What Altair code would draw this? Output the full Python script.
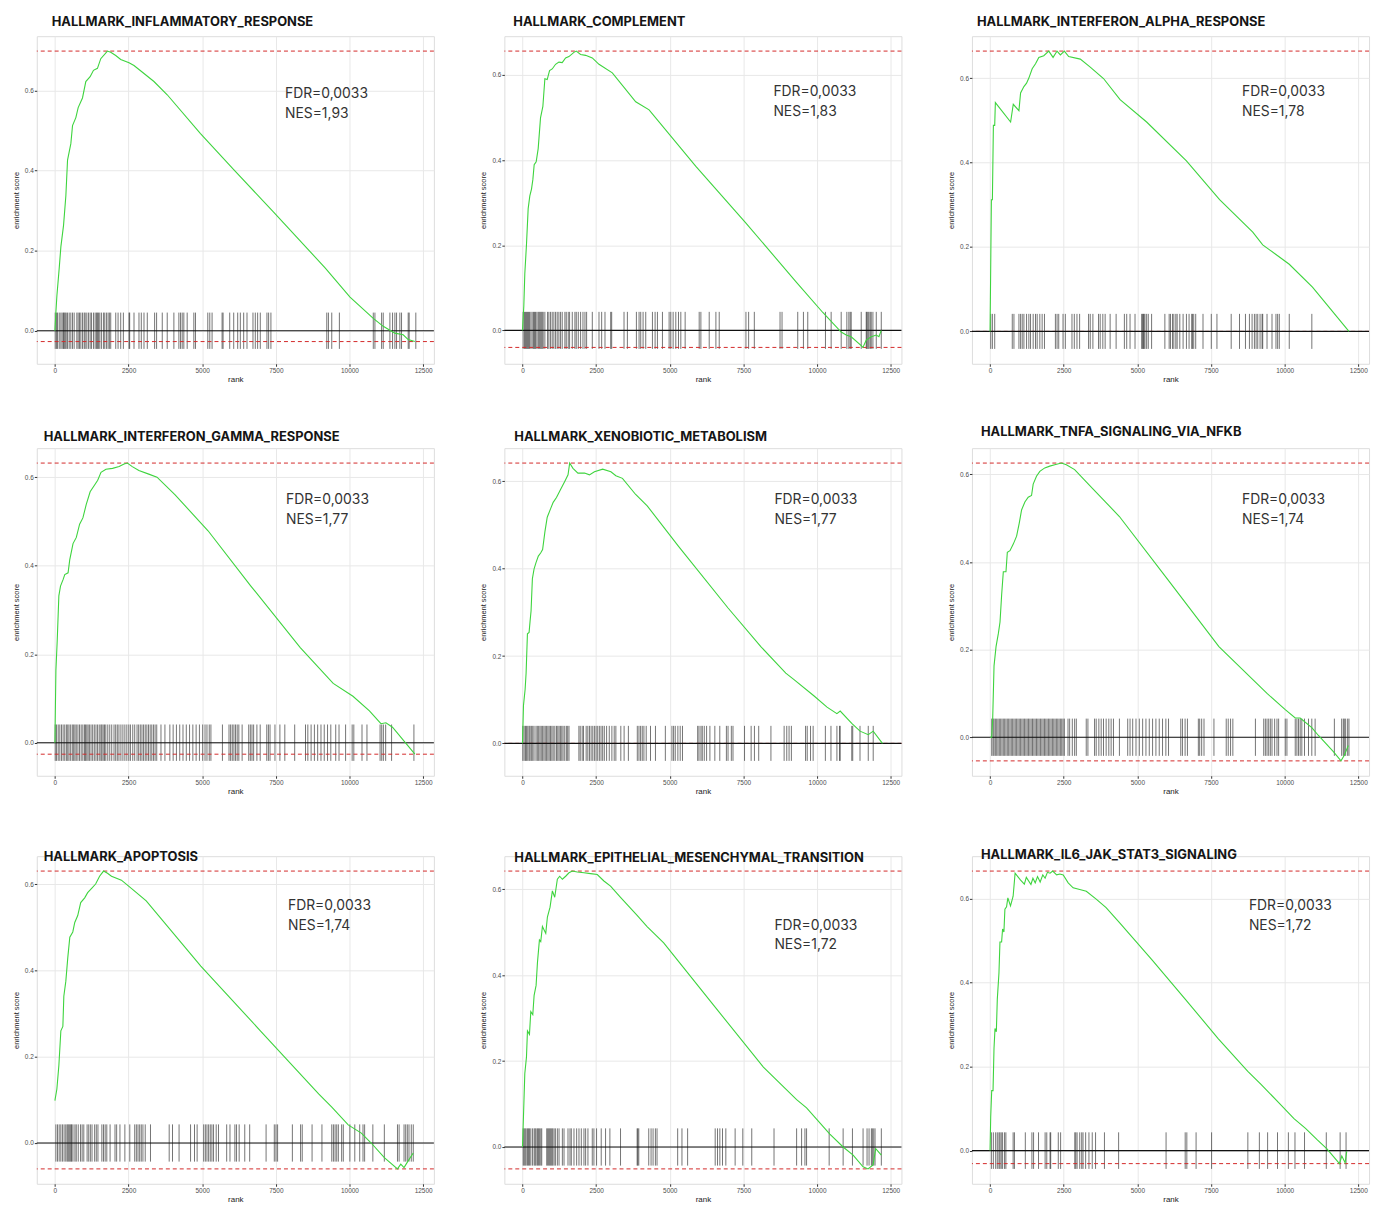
import altair as alt
import pandas as pd

TITLES = [
    "HALLMARK_INFLAMMATORY_RESPONSE", "HALLMARK_COMPLEMENT", "HALLMARK_INTERFERON_ALPHA_RESPONSE",
    "HALLMARK_INTERFERON_GAMMA_RESPONSE", "HALLMARK_XENOBIOTIC_METABOLISM", "HALLMARK_TNFA_SIGNALING_VIA_NFKB",
    "HALLMARK_APOPTOSIS", "HALLMARK_EPITHELIAL_MESENCHYMAL_TRANSITION", "HALLMARK_IL6_JAK_STAT3_SIGNALING",
]
FDR = ["0,0033", "0,0033", "0,0033", "0,0033", "0,0033", "0,0033", "0,0033", "0,0033", "0,0033"]
NES = ["1,93", "1,83", "1,78", "1,77", "1,77", "1,74", "1,74", "1,72", "1,72"]
POS_ES = [0.698, 0.656, 0.664, 0.632, 0.642, 0.626, 0.630, 0.642, 0.666]
NEG_ES = [-0.027, -0.040, 0.0, -0.026, 0.0, -0.054, -0.060, -0.051, -0.031]

X_TICKS = [0, 2500, 5000, 7500, 10000, 12500]
Y_TICKS = [0.0, 0.2, 0.4, 0.6]

# ---- running enrichment score curves (rank, ES) ----
R1 = [0, 34, 68, 147, 203, 293, 372, 429, 541, 598, 711, 790, 936, 1049, 1196, 1309, 1444, 1557, 1782, 1895,
      2065, 2234, 2516, 2685, 3024, 3362, 3813, 4942, 6070, 7424, 9172, 10018, 10808, 11146, 11541, 11823, 11992, 12218]
E1 = [0.0, 0.047, 0.088, 0.157, 0.210, 0.263, 0.337, 0.426, 0.467, 0.512, 0.532, 0.557, 0.581, 0.622, 0.634, 0.650,
      0.655, 0.679, 0.698, 0.695, 0.687, 0.677, 0.669, 0.662, 0.642, 0.622, 0.589, 0.492, 0.402, 0.296, 0.157, 0.084,
      0.031, 0.011, -0.006, -0.010, -0.022, -0.027]

R2 = [0, 45, 79, 136, 193, 249, 306, 352, 397, 465, 533, 612, 692, 760, 839, 919, 1009, 1123, 1236, 1349, 1463, 1576,
      1746, 1826, 1973, 2143, 2370, 2597, 3050, 3844, 4298, 5886, 7586, 9287, 10195, 10819, 10989, 11159, 11499, 11556,
      11669, 11840, 12010, 12100, 12179]
E2 = [0.0, 0.057, 0.133, 0.202, 0.286, 0.316, 0.332, 0.354, 0.389, 0.396, 0.427, 0.499, 0.526, 0.591, 0.589, 0.610,
      0.614, 0.625, 0.630, 0.629, 0.640, 0.643, 0.653, 0.656, 0.648, 0.646, 0.640, 0.625, 0.605, 0.537, 0.518, 0.385,
      0.252, 0.114, 0.042, -0.004, -0.011, -0.015, -0.036, -0.040, -0.023, -0.015, -0.011, -0.015, 0.0]

R3 = [0, 23, 45, 79, 113, 158, 180, 698, 788, 980, 1036, 1149, 1239, 1317, 1430, 1543, 1655, 1824, 1993, 2139, 2274,
      2387, 2522, 2669, 3063, 3401, 3851, 4414, 5315, 6666, 7792, 8918, 9256, 9706, 10157, 10945, 12183]
E3 = [0.0, 0.159, 0.312, 0.312, 0.488, 0.488, 0.542, 0.496, 0.538, 0.523, 0.565, 0.580, 0.588, 0.600, 0.622, 0.634,
      0.649, 0.653, 0.664, 0.649, 0.664, 0.655, 0.664, 0.651, 0.645, 0.626, 0.599, 0.549, 0.496, 0.404, 0.312, 0.235,
      0.205, 0.182, 0.159, 0.105, 0.0]

R4 = [0, 34, 78, 134, 190, 280, 335, 447, 503, 615, 727, 839, 950, 1062, 1196, 1342, 1453, 1565, 1733, 1957, 2180,
      2348, 2460, 2627, 2851, 3186, 3466, 4081, 5199, 6652, 8329, 9447, 10118, 10677, 11068, 11236, 11460, 12220]
E4 = [0.0, 0.164, 0.230, 0.332, 0.354, 0.369, 0.380, 0.384, 0.413, 0.450, 0.464, 0.494, 0.508, 0.538, 0.567, 0.582,
      0.593, 0.611, 0.618, 0.620, 0.624, 0.630, 0.632, 0.624, 0.615, 0.607, 0.600, 0.560, 0.479, 0.354, 0.215, 0.134,
      0.105, 0.072, 0.043, 0.045, 0.035, -0.026]

R5 = [0, 34, 90, 123, 168, 224, 258, 291, 336, 392, 459, 538, 616, 683, 762, 840, 952, 1042, 1154, 1288, 1434, 1546,
      1602, 1714, 1882, 2106, 2274, 2442, 2722, 3002, 3170, 3394, 3842, 4234, 5298, 6978, 8098, 8938, 9218, 9890,
      10338, 10674, 10786, 11178, 11458, 11738, 11906, 12219]
E5 = [0.0, 0.087, 0.124, 0.161, 0.251, 0.254, 0.280, 0.303, 0.377, 0.399, 0.414, 0.429, 0.436, 0.444, 0.485, 0.518,
      0.537, 0.552, 0.563, 0.581, 0.600, 0.615, 0.642, 0.630, 0.619, 0.619, 0.615, 0.622, 0.628, 0.622, 0.613, 0.607,
      0.570, 0.544, 0.451, 0.310, 0.221, 0.161, 0.146, 0.109, 0.083, 0.068, 0.074, 0.046, 0.028, 0.020, 0.028, 0.0]

R6 = [0, 56, 90, 135, 203, 282, 338, 394, 450, 540, 586, 676, 788, 901, 991, 1070, 1182, 1295, 1408, 1464, 1576, 1689,
      1858, 2027, 2196, 2421, 2590, 2871, 3491, 4391, 6080, 7769, 9402, 10021, 10360, 10528, 10922, 11147, 11654,
      11913, 12026, 12161]
E6 = [0.0, 0.0, 0.044, 0.163, 0.207, 0.237, 0.263, 0.326, 0.378, 0.378, 0.422, 0.426, 0.441, 0.459, 0.489, 0.519,
      0.537, 0.548, 0.552, 0.578, 0.596, 0.607, 0.615, 0.619, 0.622, 0.626, 0.622, 0.611, 0.567, 0.504, 0.356, 0.207,
      0.100, 0.063, 0.044, 0.044, 0.022, 0.004, -0.033, -0.054, -0.041, -0.019]

R7 = [0, 67, 135, 202, 270, 303, 371, 438, 506, 607, 674, 775, 876, 1011, 1112, 1247, 1382, 1517, 1651, 1786, 1921,
      2258, 2595, 3100, 4953, 6975, 8953, 9400, 9957, 10403, 10737, 11183, 11629, 11741, 11852, 11986, 12165]
E7 = [0.098, 0.125, 0.180, 0.260, 0.270, 0.340, 0.375, 0.430, 0.477, 0.489, 0.511, 0.527, 0.557, 0.568, 0.580, 0.590,
      0.600, 0.618, 0.630, 0.625, 0.618, 0.609, 0.590, 0.561, 0.410, 0.260, 0.114, 0.083, 0.042, 0.023, 0.0, -0.034,
      -0.060, -0.049, -0.057, -0.042, -0.023]

R8 = [0, 34, 79, 135, 169, 237, 282, 350, 395, 462, 508, 575, 620, 677, 790, 846, 936, 1015, 1094, 1184, 1263, 1354,
      1466, 1579, 1692, 1861, 2087, 2312, 2538, 2764, 2989, 3328, 3892, 4230, 4794, 6486, 8178, 9306, 9644, 10434,
      10885, 11224, 11562, 11731, 11900, 11991, 12182]
E8 = [0.0, 0.072, 0.171, 0.209, 0.270, 0.262, 0.315, 0.308, 0.353, 0.376, 0.429, 0.482, 0.478, 0.513, 0.497, 0.535,
      0.558, 0.596, 0.581, 0.623, 0.630, 0.623, 0.630, 0.638, 0.642, 0.640, 0.638, 0.636, 0.634, 0.619, 0.607, 0.581,
      0.539, 0.513, 0.475, 0.330, 0.186, 0.110, 0.091, 0.030, 0.0, -0.019, -0.046, -0.051, -0.042, -0.004, -0.019]

R9 = [0, 22, 56, 101, 134, 168, 213, 246, 302, 336, 392, 425, 470, 504, 560, 604, 694, 783, 850, 1029, 1164, 1231,
      1388, 1455, 1533, 1611, 1701, 1790, 1869, 1947, 2037, 2126, 2260, 2372, 2484, 2652, 2820, 3044, 3268, 3603, 3939,
      4386, 5505, 6624, 7743, 8750, 9198, 9814, 10317, 10709, 11101, 11436, 11861, 11940, 12052, 12108]
E9 = [0.0, 0.080, 0.143, 0.143, 0.244, 0.291, 0.283, 0.361, 0.423, 0.497, 0.497, 0.528, 0.521, 0.575, 0.581, 0.602,
      0.583, 0.606, 0.661, 0.645, 0.635, 0.651, 0.634, 0.649, 0.638, 0.653, 0.640, 0.657, 0.649, 0.663, 0.661, 0.666,
      0.657, 0.659, 0.657, 0.638, 0.626, 0.622, 0.618, 0.599, 0.579, 0.544, 0.454, 0.361, 0.267, 0.189, 0.158, 0.113,
      0.076, 0.053, 0.026, 0.004, -0.031, -0.013, -0.029, -0.002]

# ---- ranks of gene-set members (rug ticks) ----
H1 = [11, 56, 90, 147, 203, 248, 293, 316, 350, 384, 429, 485, 541, 598, 654, 745, 790, 835, 880, 936, 993, 1027, 1083,
      1139, 1196, 1241, 1309, 1365, 1410, 1444, 1478, 1523, 1579, 1647, 1692, 1749, 1805, 1850, 1895, 2065, 2144, 2234,
      2324, 2516, 2538, 2685, 2854, 2933, 3024, 3136, 3385, 3452, 3644, 3813, 4039, 4208, 4265, 4321, 4377, 4490, 4716,
      4772, 5190, 5257, 5336, 5675, 5709, 5934, 6070, 6205, 6295, 6408, 6521, 6724, 6803, 6882, 6972, 7198, 7255, 7333,
      9229, 9285, 9398, 9657, 10808, 10864, 11090, 11146, 11372, 11462, 11541, 11598, 11710, 11767, 11993, 12027, 12252]
H2 = [23, 68, 102, 136, 170, 204, 238, 284, 329, 374, 408, 442, 488, 533, 567, 601, 635, 669, 703, 760, 851, 896, 953,
      1009, 1066, 1123, 1179, 1236, 1293, 1349, 1440, 1486, 1554, 1599, 1690, 1780, 1826, 1894, 1973, 2053, 2121, 2177,
      2370, 2597, 2688, 2801, 2994, 3028, 3447, 3561, 3867, 3958, 4014, 4094, 4184, 4411, 4502, 4581, 4751, 4978, 5035,
      5114, 5205, 5296, 5375, 5522, 5999, 6056, 6339, 6566, 6679, 7586, 7677, 7870, 8743, 8811, 9344, 9537, 9684,
      10285, 10478, 10819, 11011, 11079, 11125, 11159, 11499, 11669, 11692, 11726, 11760, 11805, 11840, 11896, 12010,
      12180]
H3 = [23, 79, 158, 754, 811, 980, 1036, 1092, 1149, 1239, 1317, 1374, 1464, 1543, 1599, 1689, 1768, 1847, 2218, 2275,
      2331, 2477, 2556, 2781, 2860, 2950, 3040, 3344, 3401, 3491, 3682, 3738, 3828, 3907, 4076, 4279, 4560, 4639, 4752,
      4921, 5146, 5180, 5202, 5225, 5258, 5315, 5371, 5484, 5934, 6080, 6125, 6193, 6238, 6306, 6351, 6441, 6553, 6666,
      6756, 6846, 6869, 6914, 6981, 7229, 7510, 7702, 8186, 8468, 8670, 8805, 8895, 8974, 9031, 9087, 9166, 9233, 9256,
      9402, 9571, 9706, 9762, 9819, 10157, 10923]
H4 = [11, 56, 112, 167, 223, 279, 334, 390, 435, 479, 535, 591, 636, 680, 725, 781, 836, 892, 948, 1003, 1037, 1082,
      1126, 1171, 1226, 1282, 1338, 1394, 1449, 1505, 1561, 1594, 1639, 1684, 1728, 1795, 1862, 1929, 2007, 2063, 2118,
      2174, 2241, 2308, 2375, 2442, 2509, 2564, 2643, 2709, 2788, 2843, 2899, 2955, 3010, 3066, 3122, 3178, 3234, 3289,
      3345, 3401, 3457, 3601, 3735, 3902, 4014, 4125, 4237, 4348, 4460, 4571, 4683, 4794, 4906, 5017, 5096, 5162, 5240,
      5296, 5687, 5910, 5965, 6021, 6077, 6132, 6188, 6244, 6356, 6579, 6634, 6690, 6746, 6857, 6969, 7192, 7248, 7303,
      7470, 7638, 7805, 8140, 8507, 8586, 8697, 8809, 8920, 9032, 9143, 9255, 9366, 9533, 9645, 9868, 10091, 10147,
      10425, 10593, 11039, 11094, 11150, 11228, 11429, 12187]
H5 = [11, 56, 101, 134, 179, 224, 258, 302, 347, 392, 459, 504, 549, 594, 638, 683, 728, 773, 818, 862, 907, 952, 997,
      1042, 1098, 1154, 1198, 1243, 1288, 1333, 1378, 1434, 1490, 1534, 1579, 1915, 1960, 2027, 2072, 2162, 2218, 2274,
      2330, 2386, 2442, 2498, 2554, 2610, 2666, 2722, 2778, 2856, 2946, 3035, 3114, 3170, 3338, 3450, 3595, 3898, 3954,
      4010, 4066, 4122, 4200, 4346, 4514, 4850, 5074, 5130, 5186, 5275, 5354, 5432, 5947, 5992, 6059, 6104, 6171, 6250,
      6362, 6530, 6698, 6922, 6978, 7090, 7146, 7538, 7762, 7874, 8019, 8434, 8882, 8971, 9050, 9128, 9610, 9666, 9778,
      9867, 10282, 10472, 10674, 10763, 10786, 11178, 11211, 11458, 11738, 11906]
H6 = [56, 101, 135, 180, 225, 270, 315, 360, 405, 450, 495, 540, 586, 631, 676, 721, 766, 811, 856, 901, 946, 991, 1036,
      1081, 1126, 1171, 1216, 1261, 1306, 1351, 1396, 1441, 1486, 1531, 1576, 1621, 1666, 1711, 1757, 1802, 1847, 1892,
      1937, 1982, 2027, 2072, 2117, 2162, 2207, 2252, 2297, 2342, 2387, 2432, 2477, 2522, 2646, 2702, 2792, 2871, 2928,
      3265, 3322, 3547, 3603, 3693, 3772, 3851, 3941, 4031, 4110, 4189, 4391, 4673, 4752, 4842, 4954, 5067, 5180, 5292,
      5405, 5517, 5630, 5743, 5855, 5968, 6058, 6474, 6531, 6621, 6700, 7071, 7116, 7184, 7263, 7600, 8017, 8085, 8164,
      8242, 9008, 9290, 9346, 9402, 9459, 9515, 9571, 9661, 9740, 9796, 10021, 10078, 10360, 10416, 10472, 10528, 10584,
      10674, 10810, 10922, 11035, 11688, 11936, 11992, 12026, 12071, 12139, 12184]
H7 = [33, 89, 145, 201, 256, 312, 368, 413, 446, 479, 513, 546, 569, 613, 680, 725, 792, 870, 925, 981, 1093, 1148,
      1204, 1260, 1349, 1405, 1461, 1594, 1650, 1706, 1762, 1873, 2040, 2096, 2208, 2375, 2542, 2709, 2765, 2821, 2877,
      2932, 2988, 3066, 3245, 3880, 3992, 4215, 4605, 4739, 4828, 5051, 5107, 5162, 5218, 5274, 5330, 5385, 5475, 5553,
      5831, 5943, 6110, 6166, 6255, 6445, 6612, 7169, 7448, 7504, 7560, 8061, 8340, 8396, 8730, 9065, 9399, 9455, 9511,
      9567, 9622, 9734, 9790, 10013, 10180, 10347, 10459, 10514, 10793, 11183, 11629, 11685, 11852, 11908, 11964, 12020,
      12098, 12165]
H8 = [23, 56, 90, 124, 169, 203, 237, 282, 338, 395, 429, 462, 508, 541, 575, 620, 654, 823, 857, 891, 925, 959, 993,
      1026, 1072, 1117, 1184, 1241, 1354, 1410, 1545, 1613, 1658, 1748, 1839, 1918, 1997, 2087, 2143, 2222, 2369, 2425,
      2515, 2673, 2820, 2967, 3328, 3892, 3914, 3948, 4286, 4365, 4433, 4512, 4568, 5268, 5414, 5606, 6542, 6621, 6700,
      6790, 6903, 7219, 7479, 7783, 8539, 9306, 9475, 9588, 9644, 10411, 10885, 11201, 11562, 11697, 11765, 11844, 11878,
      11923, 11968, 12182]
H9 = [45, 112, 190, 246, 302, 336, 380, 425, 492, 537, 783, 828, 1197, 1421, 1477, 1645, 1869, 1925, 2037, 2059, 2316,
      2395, 2876, 2909, 2954, 3044, 3111, 3156, 3245, 3357, 3469, 3581, 3883, 4364, 5975, 6624, 6680, 6994, 7520, 8751,
      9142, 9422, 9758, 10127, 10351, 10675, 11414, 11884, 12085]

CURVE_RANKS = [R1, R2, R3, R4, R5, R6, R7, R8, R9]
CURVE_ES = [E1, E2, E3, E4, E5, E6, E7, E8, E9]
HITS = [H1, H2, H3, H4, H5, H6, H7, H8, H9]

# ---- layout / style (not data) ----
PLOT_W, PLOT_H = 400, 330
X_DOMAIN = [-615, 12865]
TITLE_DX = [15, 9, 5, 7, 10, 9, 7, 10, 9]
TITLE_DY = [0, 0, 0, 3, 3, -2, 15, 16, 13]
TEXT_POS = [(250, 58), (271, 56), (272, 56), (251, 52), (272, 52), (272, 52), (253, 50), (272, 70), (279, 50)]
GREEN = "#3ed43e"
RED = "#d42a2a"


def make_panel(i):
    pos, neg = POS_ES[i], NEG_ES[i]
    d = (pos - neg) / 8.0
    lo, hi = min(neg, -d / 2), max(pos, d / 2)
    pad = 0.05 * (hi - lo)
    xs = alt.Scale(domain=X_DOMAIN, nice=False, zero=False)
    ys = alt.Scale(domain=[lo - pad, hi + pad], nice=False, zero=False)
    xax = alt.Axis(values=X_TICKS, format="d", title="rank", grid=True, domain=False,
                   labelFontSize=6.5, labelColor="#4d4d4d", labelPadding=1, tickSize=2.5,
                   tickColor="#333333", titleFontSize=8, titleFontWeight="normal", titleColor="#222222",
                   titlePadding=2, gridColor="#e8e8e8", gridWidth=1, labelFont="Liberation Sans",
                   titleFont="Liberation Sans")
    yax = alt.Axis(values=Y_TICKS, format=".1f", title="enrichment score", grid=True, domain=False,
                   labelFontSize=6.5, labelColor="#4d4d4d", labelPadding=1, tickSize=2.5,
                   tickColor="#333333", titleFontSize=7.5, titleFontWeight="normal", titleColor="#222222",
                   titlePadding=4, gridColor="#e8e8e8", gridWidth=1, labelFont="Liberation Sans",
                   titleFont="Liberation Sans")

    curve = pd.DataFrame({"rank": CURVE_RANKS[i], "es": CURVE_ES[i], "o": list(range(len(CURVE_RANKS[i])))})
    hits = pd.DataFrame({"rank": HITS[i]})
    hits["lo"] = -d / 2
    hits["hi"] = d / 2
    hl = pd.DataFrame({"y": [pos, neg]})
    zero = pd.DataFrame({"y": [0.0]})
    txt = pd.DataFrame({"k": [0]})

    ticks = alt.Chart(hits).mark_rule(color="#000000", strokeWidth=0.55).encode(
        x=alt.X("rank:Q", scale=xs, axis=xax),
        y=alt.Y("lo:Q", scale=ys, axis=yax),
        y2="hi:Q")
    red = alt.Chart(hl).mark_rule(color=RED, strokeDash=[4, 3], strokeWidth=1).encode(
        y=alt.Y("y:Q", scale=ys, axis=yax))
    zl = alt.Chart(zero).mark_rule(color="#111111", strokeWidth=1.1).encode(
        y=alt.Y("y:Q", scale=ys, axis=yax))
    line = alt.Chart(curve).mark_line(color=GREEN, strokeWidth=1.1).encode(
        x=alt.X("rank:Q", scale=xs, axis=xax),
        y=alt.Y("es:Q", scale=ys, axis=yax),
        order="o:Q")
    tx, ty = TEXT_POS[i]
    label = alt.Chart(txt).mark_text(
        text=[f"FDR={FDR[i]}", f"NES={NES[i]}"], align="left", baseline="middle",
        fontSize=14, font="Inter", color="#333333", lineHeight=20).encode(
        x=alt.value(tx), y=alt.value(ty))

    return alt.layer(ticks, red, zl, line, label).properties(
        width=PLOT_W, height=PLOT_H,
        title=alt.TitleParams(text=TITLES[i], anchor="start", frame="group", dx=TITLE_DX[i],
                              dy=TITLE_DY[i], fontSize=13, font="Inter", fontWeight=700,
                              color="#151515", offset=7))


panels = [make_panel(i) for i in range(9)]
rows = [alt.hconcat(*panels[r * 3:(r + 1) * 3], spacing=43) for r in range(3)]
lower = alt.vconcat(rows[1], rows[2], spacing=52)
chart = alt.vconcat(rows[0], lower, spacing=41).properties(
    padding={"left": 3, "top": 3, "right": 3, "bottom": 0}
).configure_view(stroke=None).configure(background="white")

chart.save("out.html", embed_options={"renderer": "svg", "actions": False})
